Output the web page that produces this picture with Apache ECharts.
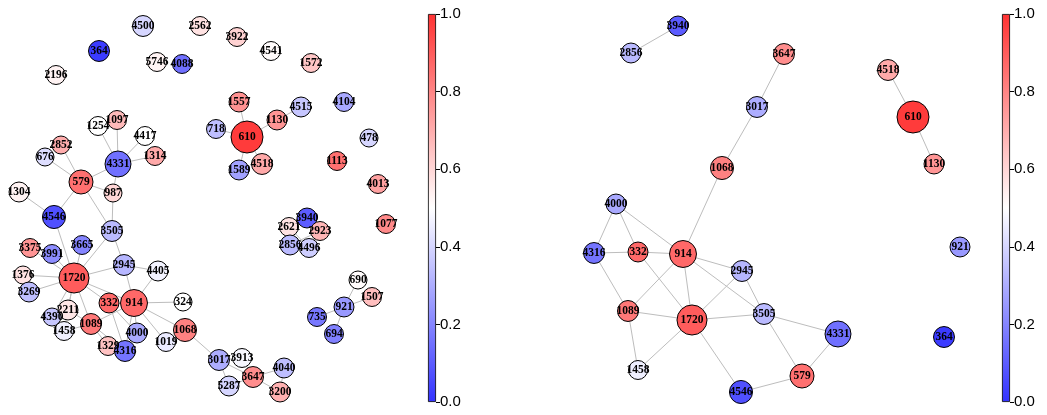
<!DOCTYPE html>
<html>
<head>
<meta charset="utf-8">
<script src="https://cdn.jsdelivr.net/npm/echarts@6/dist/echarts.min.js"></script>
<style>
html,body{margin:0;padding:0;background:#fff;}
#chart{width:1047px;height:415px;}
</style>
</head>
<body>
<div id="chart"></div>
<script>
// ---- node attributes (shared by both panels) ----
const nodeIds = ['610','364','4088','4331','4546','3940','4500','2562','3922','4541','1572','5746','2196','1557','4515','4104','718','1130','478','1589','4518','1113','4013','1077','2621','2923','2856','4496','1254','1097','4417','2852','676','1314','579','987','1304','3505','3665','3375','3991','2945','1376','1720','4405','3269','332','914','324','2211','4390','1089','1458','4000','1068','1019','1329','4316','690','1507','921','735','694','3017','3913','3647','4040','5287','3200'];
const nodeValues = [0.98,0.02,0.15,0.15,0.07,0.10,0.40,0.57,0.61,0.51,0.64,0.53,0.53,0.77,0.36,0.29,0.34,0.76,0.40,0.27,0.71,0.85,0.73,0.79,0.57,0.68,0.33,0.38,0.50,0.67,0.50,0.70,0.42,0.71,0.85,0.60,0.53,0.33,0.20,0.76,0.22,0.32,0.57,0.90,0.47,0.34,0.87,0.87,0.50,0.56,0.36,0.83,0.46,0.29,0.81,0.45,0.65,0.16,0.51,0.66,0.25,0.17,0.19,0.30,0.48,0.78,0.34,0.40,0.69];
const nodeWeight = [1.0,0.21,0.07,0.57,0.36,0.14,0.21,0.07,0.07,0.07,0.07,0.07,0.07,0.14,0.14,0.07,0.07,0.14,0.0,0.14,0.21,0.07,0.07,0.07,0.07,0.07,0.14,0.07,0.07,0.07,0.07,0.0,0.0,0.07,0.43,0.0,0.14,0.21,0.07,0.07,0.07,0.21,0.0,0.86,0.14,0.14,0.14,0.64,0.0,0.14,0.0,0.21,0.07,0.14,0.36,0.07,0.07,0.21,0.0,0.07,0.14,0.07,0.07,0.21,0.07,0.21,0.14,0.14,0.14];

// ---- left panel layout coordinates ----
const leftNodes = ['4500','364','5746','4088','2196','2562','3922','4541','1572','1557','4515','4104','1130','718','610','478','1589','4518','1113','4013','1077','3940','2621','2923','2856','4496','1254','1097','4417','2852','676','1314','4331','579','987','1304','4546','3505','3665','3375','3991','2945','1376','1720','4405','3269','332','914','324','2211','4390','1089','1458','4000','1068','1019','1329','4316','690','1507','921','735','694','3017','3913','3647','4040','5287','3200'];
const leftX = [143,99,157,182,56,200,237,271,311,239,301,344,277,216,247,369,239,262,337,378,386,307,289,320,290,309,98,117,145,61,45,155,118,81,113,19,54,112,82,30,52,124,23,74,158,29,109,134,183,68,52,91,64,137,185,166,108,125,358,372,344,317,334,219,242,253,284,229,280];
const leftY = [26,51,62,64,75,26,37,51,63,102,107,102,120,129,137,138,170,164,161,184,224,218,227,231,245,248,126,120,136,145,157,156,164,182,193,192,217,231,245,248,254,265,275,278,271,292,303,303,302,310,317,324,331,333,330,342,346,351,280,297,307,317,334,360,358,377,368,386,392];
const leftEdges = [
 ['610','1557'],['610','1130'],['1130','4515'],['610','718'],['610','1589'],['610','4518'],
 ['4331','1254'],['4331','1097'],['4331','4417'],['4331','1314'],['4331','579'],['4331','987'],['987','3505'],
 ['579','2852'],['579','676'],['579','987'],['579','4546'],['579','3505'],
 ['1304','4546'],['4546','1720'],['3505','1720'],['3505','2945'],
 ['1720','3665'],['1720','3991'],['1720','3375'],['1720','1376'],['1720','3269'],['1720','2945'],['1720','914'],['1720','332'],['1720','2211'],['1720','1089'],['1720','1458'],['1720','4390'],
 ['914','2945'],['914','4405'],['914','324'],['914','1068'],['914','1019'],['914','4000'],['914','332'],['914','1089'],['914','4316'],
 ['2945','4405'],['332','4000'],['332','4316'],['1089','4316'],['1089','1458'],['1089','1329'],['1089','2211'],['1329','4316'],
 ['1068','3017'],['3017','3913'],['3017','5287'],['3017','3647'],['3913','3647'],['5287','3647'],['3647','4040'],['3647','3200'],['4040','3200'],
 ['921','690'],['921','1507'],['921','735'],['921','694'],
 ['3940','2621'],['3940','2923'],['2621','2856'],['2923','4496'],['2856','4496'],['2621','4496'],['2923','2856']
];

// ---- right panel layout coordinates ----
const rightNodes = ['3940','2856','3647','3017','1068','4518','610','1130','921','4331','364','579','4000','4316','332','914','2945','1089','1720','3505','1458','4546'];
const rightX = [678,631,784,757,722,888,913,934,960,838,944,802,616,594,638,683,742,628,692,764,638,741];
const rightY = [26,53,54,107,168,70,117,164,247,334,337,376,204,253,252,254,271,311,320,314,370,392];
const rightEdges = [
 ['3940','2856'],['3647','3017'],['3017','1068'],['1068','914'],['4518','610'],['610','1130'],
 ['4000','4316'],['4000','332'],['4000','914'],['4316','332'],['4316','1089'],['332','914'],['332','1720'],
 ['914','1089'],['914','1720'],['914','2945'],['914','3505'],['2945','1720'],['2945','3505'],
 ['1089','1720'],['1089','1458'],['1720','1458'],['1720','3505'],['1720','4546'],
 ['3505','579'],['3505','4331'],['4546','579'],['579','4331']
];

// ---- colorbar ticks ----
const cbMin = 0, cbMax = 1, cbStep = 0.2;

// bwr colormap, drawn with 0.8 alpha over white (opaque result)
function bwr(v){
  let r,g,b;
  if(v<0.5){ r=g=2*v; b=1; } else { r=1; g=b=2*(1-v); }
  const a=0.8;
  const f=c=>Math.round((c*a+(1-a))*255);
  return 'rgb('+f(r)+','+f(g)+','+f(b)+')';
}
function attr(id){ const i=nodeIds.indexOf(id); return {v:nodeValues[i], w:nodeWeight[i]}; }
function buildNodes(ids,xs,ys){
  return ids.map((id,i)=>{
    const a=attr(id);
    return {name:id, value:[xs[i],ys[i]], symbolSize:18+14*a.w, itemStyle:{color:bwr(a.v)}};
  });
}
function buildLinks(edges){ return edges.map(e=>({source:e[0],target:e[1]})); }

const gradStops=[];
for(let k=0;k<=20;k++){ const t=k/20; gradStops.push({offset:t, color:bwr(1-t)}); }

const graphCommon = {
  type:'graph', coordinateSystem:'cartesian2d', symbol:'circle', roam:false,
  itemStyle:{borderColor:'#000', borderWidth:1},
  lineStyle:{color:'#bdbdbd', width:1, opacity:1, curveness:0},
  label:{show:true, position:'inside', formatter:'{b}', color:'#000', fontFamily:'Liberation Serif', fontWeight:'bold', fontSize:11.5},
  emphasis:{disabled:true}, z:2
};

const hiddenX = (gi,min,max)=>({type:'value', gridIndex:gi, min:min, max:max, show:false});
const hiddenY = (gi,min,max)=>({type:'value', gridIndex:gi, min:min, max:max, inverse:true, show:false});
const cbX = gi=>({type:'category', gridIndex:gi, data:['c'], show:false});
const cbY = gi=>({type:'value', gridIndex:gi, min:cbMin, max:cbMax, interval:cbStep, position:'right',
  axisLine:{show:false}, splitLine:{show:false},
  axisTick:{show:true, length:4, lineStyle:{color:'#000', width:1}},
  axisLabel:{show:true, margin:4, color:'#000', fontFamily:'Liberation Sans', fontSize:15, formatter:v=>v.toFixed(1)}});

const option = {
  animation:false,
  backgroundColor:'#fff',
  grid:[
    {left:0, top:0, width:420, height:415},
    {left:560, top:0, width:420, height:415},
    {left:428, top:14, width:8, height:388},
    {left:1002, top:14, width:8, height:388}
  ],
  xAxis:[hiddenX(0,0,420), hiddenX(1,560,980), cbX(2), cbX(3)],
  yAxis:[hiddenY(0,0,415), hiddenY(1,0,415), cbY(2), cbY(3)],
  series:[
    Object.assign({}, graphCommon, {xAxisIndex:0, yAxisIndex:0, data:buildNodes(leftNodes,leftX,leftY), links:buildLinks(leftEdges)}),
    Object.assign({}, graphCommon, {xAxisIndex:1, yAxisIndex:1, data:buildNodes(rightNodes,rightX,rightY), links:buildLinks(rightEdges)}),
    {type:'bar', xAxisIndex:2, yAxisIndex:2, data:[cbMax], barWidth:'100%', silent:true,
     itemStyle:{borderColor:'#000', borderWidth:0.8, color:{type:'linear',x:0,y:0,x2:0,y2:1,colorStops:gradStops}}},
    {type:'bar', xAxisIndex:3, yAxisIndex:3, data:[cbMax], barWidth:'100%', silent:true,
     itemStyle:{borderColor:'#000', borderWidth:0.8, color:{type:'linear',x:0,y:0,x2:0,y2:1,colorStops:gradStops}}}
  ]
};
const chart = echarts.init(document.getElementById('chart'), null, {renderer:'canvas'});
chart.setOption(option);
</script>
</body>
</html>
